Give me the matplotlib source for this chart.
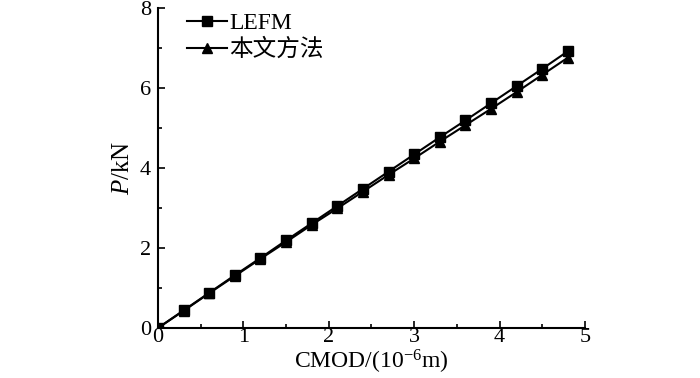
import matplotlib
matplotlib.use('Agg')
import matplotlib.pyplot as plt
from matplotlib.ticker import MultipleLocator

plt.rcParams['font.family'] = ['Liberation Serif', 'Noto Sans CJK SC']
plt.rcParams['mathtext.fontset'] = 'custom'
plt.rcParams['mathtext.rm'] = 'Liberation Serif'
plt.rcParams['mathtext.it'] = 'Liberation Serif:italic'

cmod = [0, 0.3, 0.6, 0.9, 1.2, 1.5, 1.8, 2.1, 2.4, 2.7, 3.0, 3.3, 3.6, 3.9, 4.2, 4.5, 4.8]
p_lefm = [0, 0.44, 0.88, 1.32, 1.75, 2.19, 2.62, 3.05, 3.48, 3.91, 4.34, 4.77, 5.19, 5.62, 6.05, 6.48, 6.92]
p_method = [0, 0.43, 0.87, 1.30, 1.73, 2.15, 2.58, 2.99, 3.41, 3.83, 4.24, 4.66, 5.07, 5.48, 5.90, 6.33, 6.76]
labels = ['LEFM', '本文方法']

fig = plt.figure(figsize=(7, 3.78), dpi=100)
ax = fig.add_axes([0.2257, 0.1323, 0.61, 0.8465])

ax.plot(cmod, p_lefm, color='k', marker='s', markersize=6.5, lw=1.5, label=labels[0])
ax.plot(cmod, p_method, color='k', marker='^', markersize=6.5, lw=1.5, label=labels[1])

ax.set_xlim(0, 5)
ax.set_ylim(0, 8)
ax.xaxis.set_major_locator(MultipleLocator(1))
ax.xaxis.set_minor_locator(MultipleLocator(0.5))
ax.yaxis.set_major_locator(MultipleLocator(2))
ax.yaxis.set_minor_locator(MultipleLocator(1))
ax.tick_params(which='both', direction='in', labelsize=16, width=1.2)
ax.tick_params(which='major', length=5)
ax.tick_params(which='minor', length=3)
ax.tick_params(axis='x', pad=0)
ax.tick_params(axis='y', pad=5)
ax.spines['top'].set_visible(False)
ax.spines['right'].set_visible(False)
ax.spines['left'].set_linewidth(1.5)
ax.spines['bottom'].set_linewidth(1.5)

ax.set_xlabel('CMOD/(10$^{-6}$m)', fontsize=17, labelpad=0.5)
ax.set_ylabel('$P$/kN', fontsize=18, labelpad=4)

leg = ax.legend(loc='upper left', frameon=False, fontsize=17, handlelength=1.7,
                handletextpad=0.1, labelspacing=0.2, borderaxespad=0.2,
                bbox_to_anchor=(0.035, 1.03))

fig.savefig('out.png', dpi=100)
